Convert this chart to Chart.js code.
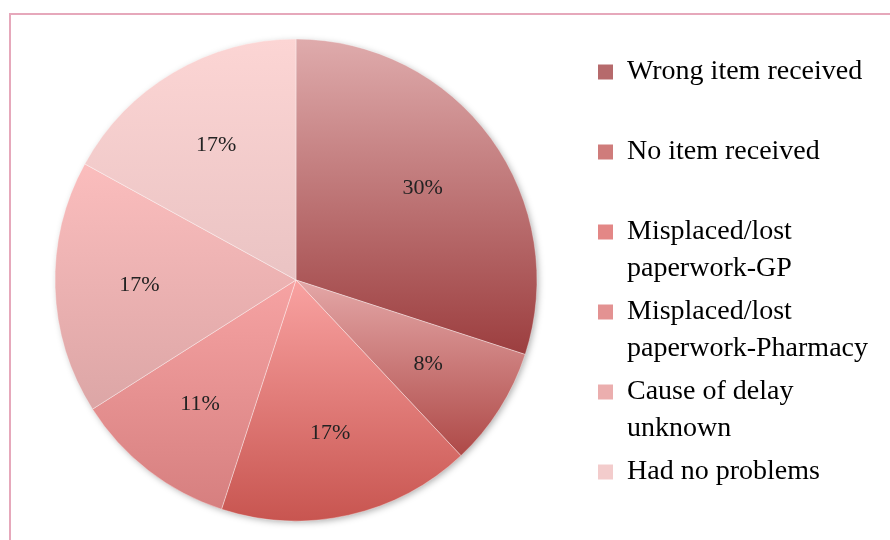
<!DOCTYPE html>
<html>
<head>
<meta charset="utf-8">
<script src="https://cdn.jsdelivr.net/npm/chart.js@4"></script>
<style>
  html, body { margin: 0; padding: 0; background: #fff; overflow: hidden; }
  #frame {
    position: absolute; left: 9px; top: 13px;
    width: 1000px; height: 1000px;
    border: 2px solid #e6a8bb;
  }
  #wrap { position: absolute; left: 0; top: 0; width: 890px; height: 540px; }
</style>
</head>
<body>
<div id="frame"></div>
<div id="wrap"><canvas id="pieChart"></canvas></div>
<script>
const categories = [
  ["Wrong item received"],
  ["No item received"],
  ["Misplaced/lost", "paperwork-GP"],
  ["Misplaced/lost", "paperwork-Pharmacy"],
  ["Cause of delay", "unknown"],
  ["Had no problems"]
];
const percentages = [30, 8, 17, 11, 17, 17];

// slice gradients, light at the top of each slice, dark at the bottom
const topColors = ["#dfabac", "#e4a7a7", "#f9a2a1", "#f6a3a3", "#fbbdbd", "#fcd5d4"];
const bottomColors = ["#9c3e3f", "#ae4947", "#c85550", "#d67f7f", "#dca6a6", "#eac3c3"];
const swatchColors = ["#b66a6c", "#cf7c7b", "#e38786", "#e39292", "#ebaeae", "#f3cccc"];

const pieRadius = 241;

Chart.defaults.font.family = '"Liberation Serif", "Times New Roman", serif';
Chart.defaults.color = "#000";

function sliceGradient(context) {
  const chart = context.chart;
  const area = chart.chartArea;
  const i = context.dataIndex;
  if (!area || i === undefined) return swatchColors[i] || swatchColors[0];

  const cx = (area.left + area.right) / 2;
  const cy = (area.top + area.bottom) / 2;
  const total = percentages.reduce((a, b) => a + b, 0);
  let before = 0;
  for (let k = 0; k < i; k++) before += percentages[k];
  const a0 = -Math.PI / 2 + 2 * Math.PI * before / total;
  const a1 = a0 + 2 * Math.PI * percentages[i] / total;

  const ys = [cy, cy + pieRadius * Math.sin(a0), cy + pieRadius * Math.sin(a1)];
  if (a0 < Math.PI / 2 && a1 > Math.PI / 2) ys.push(cy + pieRadius);
  const yTop = Math.min(...ys);
  const yBottom = Math.max(...ys);

  const g = chart.ctx.createLinearGradient(cx, yTop, cx, yBottom);
  g.addColorStop(0, topColors[i]);
  g.addColorStop(1, bottomColors[i]);
  return g;
}

// soft shadow behind the whole pie
const pieShadow = {
  id: "pieShadow",
  beforeDatasetsDraw(chart) {
    const arc = chart.getDatasetMeta(0).data[0];
    if (!arc) return;
    const ctx = chart.ctx;
    ctx.save();
    ctx.shadowColor = "rgba(0,0,0,0.35)";
    ctx.shadowBlur = 7;
    ctx.shadowOffsetX = 2;
    ctx.shadowOffsetY = 2;
    ctx.fillStyle = "#fff";
    ctx.beginPath();
    ctx.arc(arc.x, arc.y, arc.outerRadius - 1, 0, Math.PI * 2);
    ctx.fill();
    ctx.restore();
  }
};

// percentage text inside each slice
const percentLabels = {
  id: "percentLabels",
  afterDatasetsDraw(chart) {
    const ctx = chart.ctx;
    const meta = chart.getDatasetMeta(0);
    ctx.save();
    ctx.font = '22px "Liberation Serif", serif';
    ctx.fillStyle = "#222";
    ctx.textAlign = "center";
    ctx.textBaseline = "middle";
    meta.data.forEach((arc, i) => {
      const mid = (arc.startAngle + arc.endAngle) / 2;
      const r = arc.outerRadius * 0.65;
      ctx.fillText(percentages[i] + "%", arc.x + Math.cos(mid) * r, arc.y + Math.sin(mid) * r);
    });
    ctx.restore();
  }
};

const ctx = document.getElementById("pieChart").getContext("2d");

new Chart(ctx, {
  type: "pie",
  data: {
    labels: categories.map((c) => c.join(" ")),
    datasets: [
      {
        data: percentages,
        backgroundColor: sliceGradient,
        borderColor: "rgba(255,255,255,0.35)",
        borderWidth: 1,
        radius: pieRadius,
        clip: false,
      },
    ],
  },
  options: {
    responsive: true,
    maintainAspectRatio: false,
    animation: false,
    layout: {
      padding: { left: 0, right: 12, top: 52, bottom: 32 },
    },
    plugins: {
      tooltip: { enabled: false },
      legend: {
        position: "right",
        align: "start",
        labels: {
          boxWidth: 15,
          boxHeight: 15,
          padding: 6,
          color: "#000",
          font: { size: 28, lineHeight: "37px" },
          generateLabels(chart) {
            const items = Chart.overrides.pie.plugins.legend.labels.generateLabels(chart);
            return items.map((item, i) => {
              const lines = categories[i];
              // every entry takes a two-line slot, the last one just its own line
              if (i === categories.length - 1) item.text = lines[0];
              else item.text = lines.length > 1 ? lines : [lines[0], ""];
              item.fillStyle = swatchColors[i];
              item.strokeStyle = swatchColors[i];
              item.lineWidth = 0;
              return item;
            });
          },
        },
      },
    },
  },
  plugins: [pieShadow, percentLabels],
});
</script>
</body>
</html>
